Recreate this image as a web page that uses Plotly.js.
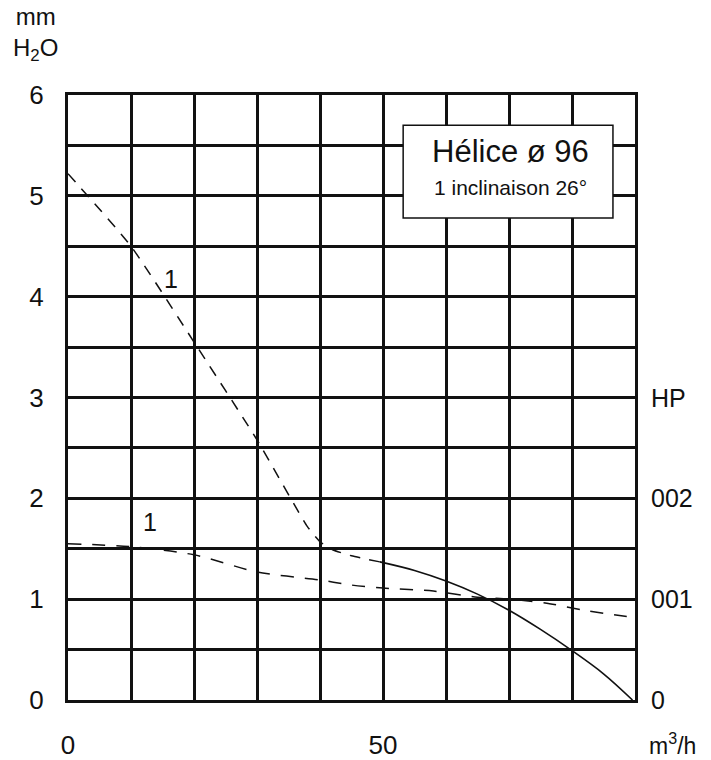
<!DOCTYPE html>
<html>
<head>
<meta charset="utf-8">
<script src="https://cdn.plot.ly/plotly-3.0.1.min.js"></script>
<style>html,body{margin:0;padding:0;background:#fff;}</style>
</head>
<body>
<div id="chart" style="width:711px;height:760px;"></div>
<script>
// Pressure curve "1" (dashed part) – m3/h vs mm H2O
const pressDashX = [0, 10, 20, 30, 38, 40, 42, 45, 49.5];
const pressDashY = [5.22, 4.5, 3.55, 2.58, 1.72, 1.57, 1.49, 1.43, 1.37];
// Pressure curve continued (solid part)
const pressSolidX = [49.5, 55, 60, 65, 70, 75, 80, 85, 89.6];
const pressSolidY = [1.37, 1.285, 1.18, 1.05, 0.89, 0.70, 0.49, 0.26, 0];
// Power curve "1" (dashed, flat)
const powerX = [0, 10, 20, 30, 40, 45, 50, 58, 65, 70, 76, 82, 89.5];
const powerY = [1.55, 1.52, 1.44, 1.27, 1.19, 1.14, 1.11, 1.08, 1.02, 1.0, 0.96, 0.89, 0.82];

const xGrid = [0, 10, 20, 30, 40, 50, 60, 70, 80, 90];
const xLabels = ['0', '', '', '', '', '50', '', '', '', ''];
const yGrid = [0, 0.5, 1, 1.5, 2, 2.5, 3, 3.5, 4, 4.5, 5, 5.5, 6];
const yLabels = ['0', '', '1', '', '2', '', '3', '', '4', '', '5', '', '6'];
const rightVals = [0, 1, 2, 3];
const rightLabels = ['0', '001', '002', 'HP'];
const curveLabels = [{x: 16.4, y: 4.18, t: '1'}, {x: 13, y: 1.77, t: '1'}];

const FONT = 'Liberation Sans, Arial, Helvetica, sans-serif';
const INK = '#111';

const traces = [
  {x: pressDashX, y: pressDashY, mode: 'lines', line: {color: INK, width: 1.5, dash: '11px,9px', shape: 'spline', smoothing: 0.5}, hoverinfo: 'skip'},
  {x: pressSolidX, y: pressSolidY, mode: 'lines', line: {color: INK, width: 1.6, shape: 'spline', smoothing: 1}, hoverinfo: 'skip'},
  {x: powerX, y: powerY, mode: 'lines', line: {color: INK, width: 1.5, dash: '13px,11px', shape: 'spline', smoothing: 0.8}, hoverinfo: 'skip'}
];

const annotations = [];
rightVals.forEach((v, i) => annotations.push({
  x: 1, xref: 'paper', xanchor: 'left', xshift: 14, y: v, yref: 'y', yanchor: 'middle',
  text: rightLabels[i], showarrow: false, font: {family: FONT, size: 25, color: INK}
}));
curveLabels.forEach(c => annotations.push({
  x: c.x, y: c.y, xref: 'x', yref: 'y', text: c.t, showarrow: false,
  font: {family: FONT, size: 25, color: INK}
}));
annotations.push({x: 1, xref: 'paper', xanchor: 'left', xshift: 12, y: 0, yref: 'paper', yanchor: 'top', yshift: -27,
  text: 'm<sup>3</sup>/h', showarrow: false, font: {family: FONT, size: 23, color: INK}});
annotations.push({x: 0, xref: 'paper', xanchor: 'center', xshift: -33, y: 1, yref: 'paper', yanchor: 'bottom', yshift: 28,
  text: 'mm<br>H<sub>2</sub>O', showarrow: false, align: 'center', font: {family: FONT, size: 24, color: INK}});
annotations.push({x: 70.2, y: 5.44, xref: 'x', yref: 'y', text: 'Hélice ø 96', showarrow: false,
  font: {family: FONT, size: 31, color: INK}});
annotations.push({x: 70.2, y: 5.08, xref: 'x', yref: 'y', text: '1 inclinaison 26°', showarrow: false,
  font: {family: FONT, size: 21, color: INK}});

const layout = {
  width: 711, height: 760,
  margin: {l: 68, r: 76, t: 95, b: 60},
  paper_bgcolor: '#fff', plot_bgcolor: '#fff',
  showlegend: false,
  xaxis: {range: [0, 90], tickmode: 'array', tickvals: xGrid, ticktext: xLabels,
    showgrid: true, gridcolor: INK, gridwidth: 3, zeroline: false,
    showline: true, mirror: true, linecolor: INK, linewidth: 3, ticks: '', ticklabelstandoff: 20,
    tickfont: {family: FONT, size: 26, color: INK}, fixedrange: true},
  yaxis: {range: [0, 6], tickmode: 'array', tickvals: yGrid, ticktext: yLabels,
    showgrid: true, gridcolor: INK, gridwidth: 3, zeroline: false,
    showline: true, mirror: true, linecolor: INK, linewidth: 3, ticks: '', ticklabelstandoff: 16,
    tickfont: {family: FONT, size: 26, color: INK}, fixedrange: true},
  shapes: [{type: 'rect', xref: 'x', yref: 'y', x0: 53.2, x1: 86.5, y0: 4.78, y1: 5.70,
    fillcolor: '#fff', line: {color: INK, width: 1.5}, layer: 'above'}],
  annotations: annotations
};

Plotly.newPlot('chart', traces, layout, {staticPlot: true, displayModeBar: false});
</script>
</body>
</html>
